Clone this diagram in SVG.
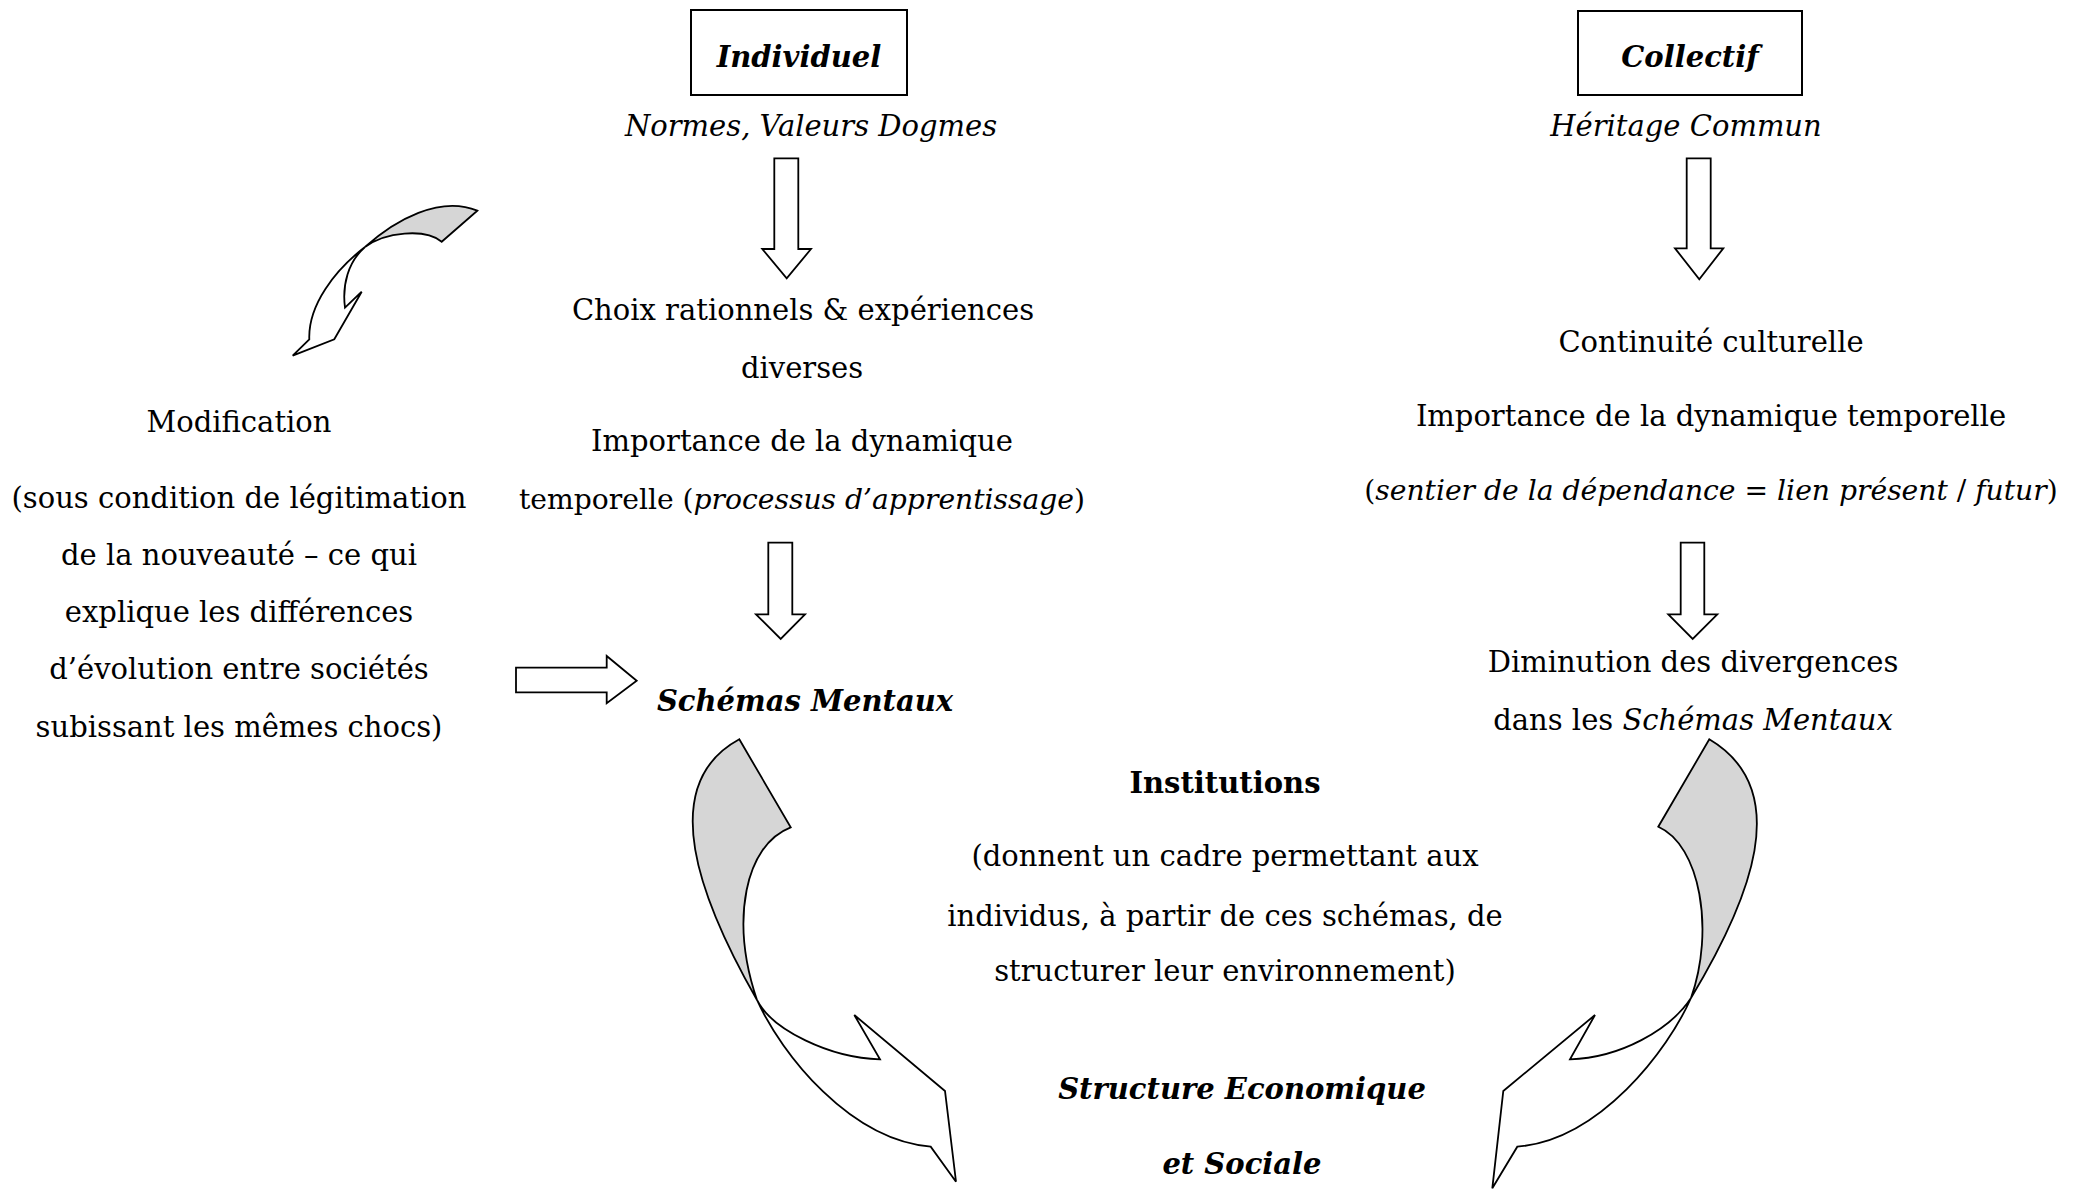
<svg xmlns="http://www.w3.org/2000/svg" width="2085" height="1190" viewBox="0 0 2085 1190">
<style>
text{font-family:"DejaVu Serif","Liberation Serif",serif;font-size:29px;fill:#000;text-anchor:middle}
.it{font-style:italic}
.b{font-weight:bold}
.bi{font-weight:bold;font-style:italic}
.sm{font-size:28.2px}
.box{fill:#fff;stroke:#000;stroke-width:2}
.arr{fill:#fff;stroke:#000;stroke-width:1.8;stroke-linejoin:miter}
.gray{fill:#d6d6d6;stroke:#000;stroke-width:1.8}
.wh{fill:#fff;stroke:#000;stroke-width:1.8}
</style>
<rect width="2085" height="1190" fill="#fff"/>

<g id="individuel">
<rect class="box" x="691" y="10" width="216" height="85"/>
<text class="bi" x="799" y="67">Individuel</text>
<text class="it" x="811" y="136">Normes, Valeurs Dogmes</text>
</g>

<g id="collectif">
<rect class="box" x="1578" y="11" width="224" height="84"/>
<text class="bi" x="1690" y="67">Collectif</text>
<text class="it" x="1686" y="136">Héritage Commun</text>
</g>

<g id="choix">
<text x="803" y="320">Choix rationnels &amp; expériences</text>
<text x="802" y="378">diverses</text>
<text x="802" y="451">Importance de la dynamique</text>
<text class="sm" x="802" y="509">temporelle (<tspan class="it">processus d’apprentissage</tspan>)</text>
</g>

<g id="modification">
<text x="239" y="432">Modification</text>
<text x="239" y="508">(sous condition de légitimation</text>
<text x="239" y="565">de la nouveauté – ce qui</text>
<text x="239" y="622">explique les différences</text>
<text x="239" y="679">d’évolution entre sociétés</text>
<text x="239" y="737">subissant les mêmes chocs)</text>
</g>

<g id="schemas">
<text class="bi" x="805" y="711">Schémas Mentaux</text>
</g>

<g id="continuite">
<text x="1711" y="352">Continuité culturelle</text>
<text x="1711" y="426">Importance de la dynamique temporelle</text>
<text class="sm" x="1711" y="500">(<tspan class="it">sentier de la dépendance</tspan> = <tspan class="it">lien présent</tspan> / <tspan class="it">futur</tspan>)</text>
</g>

<g id="diminution">
<text x="1693" y="672">Diminution des divergences</text>
<text x="1693" y="730">dans les <tspan class="it">Schémas Mentaux</tspan></text>
</g>

<g id="institutions">
<text class="b" x="1225" y="793">Institutions</text>
<text x="1225" y="866">(donnent un cadre permettant aux</text>
<text x="1225" y="926">individus, à partir de ces schémas, de</text>
<text x="1225" y="981">structurer leur environnement)</text>
</g>

<g id="structure">
<text class="bi" x="1242" y="1099">Structure Economique</text>
<text class="bi" x="1242" y="1174">et Sociale</text>
</g>

<g id="connectors">
<path class="arr" d="M774.3 158.3 H798.3 V249 H811 L786.7 278.3 L762.3 249 H774.3 Z"/>
<path class="arr" d="M1686.7 158.3 H1710.7 V248.3 H1723.3 L1699.3 279.3 L1675 248.3 H1686.7 Z"/>
<path class="arr" d="M768.3 542.7 H792.3 V614.3 H805 L780.7 639 L756 614.3 H768.3 Z"/>
<path class="arr" d="M1680.7 542.7 H1704.3 V614.3 H1717.3 L1692.7 639 L1668.3 614.3 H1680.7 Z"/>
<path class="arr" d="M516 667.7 H606.7 V656 L636.7 680.7 L606.7 703.3 V692.3 H516 Z"/>

<path class="gray" d="M365 247 C395 220 440 195 477.3 210.7 L441.7 241.7 C425 228 385 232 365 247 Z"/>
<path class="wh" d="M365 247 C335 270 308 305 309.3 339.3 L292.7 355.7 L334.3 339.3 L361.7 291.7 L345 307.7 C342 285 348 262 365 247 Z"/>

<path class="gray" d="M757 1000 C700 900 655 785 739.3 739.3 L790.7 827.3 C745 845 730 920 757 1000 Z"/>
<path class="wh" d="M757 1000 C772 1030 830 1058 880 1059.3 L854.3 1015 L945 1091 L956 1181.7 L930.7 1146.7 C850 1140 782 1055 757 1000 Z"/>

<path class="gray" d="M1691 998 C1750 900 1795 790 1709.3 739.3 L1658.3 826.7 C1700 845 1715 930 1691 998 Z"/>
<path class="wh" d="M1691 998 C1670 1030 1620 1058 1570 1059.3 L1595 1015 L1503.3 1091 L1492.3 1188.3 L1517.3 1146.7 C1600 1140 1668 1050 1691 998 Z"/>
</g>
</svg>
